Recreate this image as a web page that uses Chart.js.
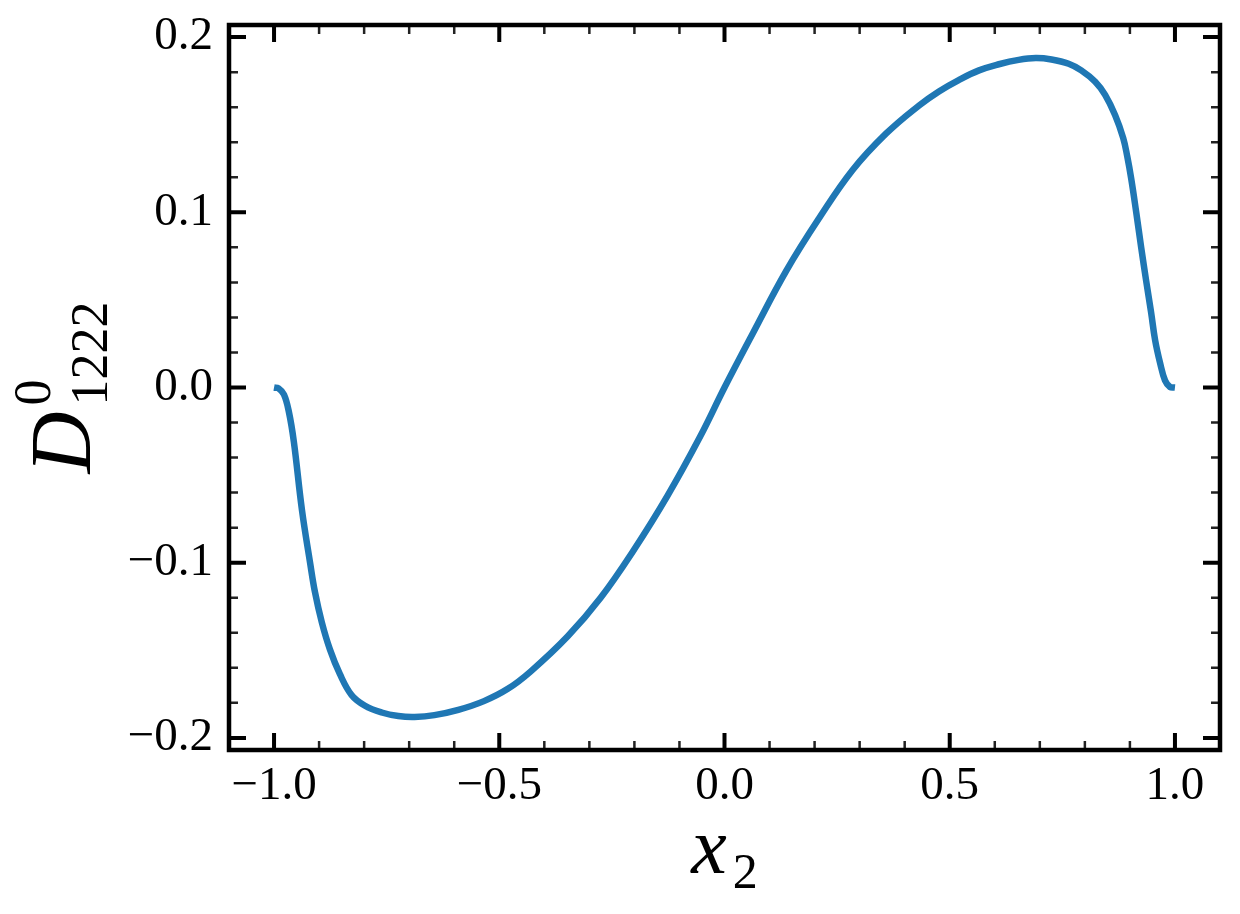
<!DOCTYPE html>
<html>
<head>
<meta charset="utf-8">
<script src="https://cdn.jsdelivr.net/npm/chart.js@4"></script>
<style>
    body { margin: 0; background: #fff; }
    #wrap { width: 1240px; height: 914px; }
</style>
</head>
<body>
<div id="wrap"><canvas id="myChart" width="1240" height="914"></canvas></div>
<script>
// values
const xValues = [-1.0, -0.99, -0.978, -0.967, -0.956, -0.938, -0.920, -0.909, -0.894, -0.876,
    -0.854, -0.828, -0.799, -0.761, -0.724, -0.688, -0.644, -0.591, -0.534, -0.481,
    -0.430, -0.348, -0.275, -0.202, -0.127, -0.054, 0.0, 0.063, 0.138, 0.211,
    0.284, 0.359, 0.432, 0.476, 0.520, 0.565, 0.609, 0.653, 0.691, 0.726,
    0.764, 0.792, 0.823, 0.845, 0.867, 0.885, 0.894, 0.903, 0.914, 0.925,
    0.936, 0.947, 0.956, 0.967, 0.978, 0.989, 1.0];
const yValues = [0.0, -0.0005, -0.004, -0.014, -0.031, -0.070, -0.100, -0.117, -0.134, -0.1495,
    -0.1635, -0.1755, -0.1815, -0.1855, -0.1875, -0.188, -0.187, -0.184, -0.179, -0.172,
    -0.162, -0.142, -0.120, -0.093, -0.062, -0.028, 0.0, 0.031, 0.067, 0.097,
    0.124, 0.145, 0.161, 0.169, 0.1755, 0.181, 0.1845, 0.187, 0.188, 0.1872,
    0.1848, 0.181, 0.1745, 0.167, 0.1555, 0.1425, 0.132, 0.119, 0.100, 0.080,
    0.061, 0.043, 0.027, 0.014, 0.004, 0.0003, 0.0];
const xTickValues = [-1.0, -0.5, 0.0, 0.5, 1.0];
const yTickValues = [-0.2, -0.1, 0.0, 0.1, 0.2];

const xLimits = [-1.1, 1.1];
const yLimits = [-0.2069, 0.2069];

const points = xValues.map((x, i) => ({ x: x, y: yValues[i] }));

// format like matplotlib: one decimal, real minus sign
function fmt(v) {
    const s = Math.abs(v) < 1e-9 ? "0.0" : v.toFixed(1);
    return s.replace("-", "\u2212");
}

//////////////////////////// frame + inward ticks ////////////////////////////
const frameTicks = {
    id: "frameTicks",
    afterDraw(chart) {
        const ctx = chart.ctx;
        const a = chart.chartArea;
        const xs = chart.scales.x;
        const ys = chart.scales.y;
        const majLen = 17, minLen = 9;

        ctx.save();

        // minor ticks
        ctx.lineWidth = 2.5;
        ctx.strokeStyle = "#222";
        ctx.beginPath();
        for (let v = -1.0; v <= 1.0001; v += 0.1) {
            const px = xs.getPixelForValue(v);
            ctx.moveTo(px, a.bottom); ctx.lineTo(px, a.bottom - minLen);
            ctx.moveTo(px, a.top); ctx.lineTo(px, a.top + minLen);
        }
        for (let v = -0.2; v <= 0.2001; v += 0.02) {
            const py = ys.getPixelForValue(v);
            ctx.moveTo(a.left, py); ctx.lineTo(a.left + minLen, py);
            ctx.moveTo(a.right, py); ctx.lineTo(a.right - minLen, py);
        }
        ctx.stroke();

        // major ticks
        ctx.lineWidth = 4;
        ctx.strokeStyle = "#000";
        ctx.beginPath();
        xTickValues.forEach(v => {
            const px = xs.getPixelForValue(v);
            ctx.moveTo(px, a.bottom); ctx.lineTo(px, a.bottom - majLen);
            ctx.moveTo(px, a.top); ctx.lineTo(px, a.top + majLen);
        });
        yTickValues.forEach(v => {
            const py = ys.getPixelForValue(v);
            ctx.moveTo(a.left, py); ctx.lineTo(a.left + majLen, py);
            ctx.moveTo(a.right, py); ctx.lineTo(a.right - majLen, py);
        });
        ctx.stroke();

        // frame
        ctx.lineWidth = 4.5;
        ctx.strokeRect(a.left, a.top, a.right - a.left, a.bottom - a.top);
        ctx.restore();
    }
};

//////////////////////////// axis titles ////////////////////////////
const axisTitles = {
    id: "axisTitles",
    afterDraw(chart) {
        const ctx = chart.ctx;
        const a = chart.chartArea;
        ctx.save();
        ctx.fillStyle = "#000";
        ctx.textBaseline = "alphabetic";
        ctx.textAlign = "left";

        // x title: x_2
        const mainX = "italic 80px 'Liberation Serif'";
        const subX = "50px 'Liberation Serif'";
        ctx.font = mainX;
        const wx = ctx.measureText("x").width;
        ctx.font = subX;
        const w2 = ctx.measureText("2").width;
        const gapX = 6;
        let startX = (a.left + a.right) / 2 - (wx + gapX + w2) / 2;
        ctx.font = mainX;
        ctx.fillText("x", startX, 873);
        ctx.font = subX;
        ctx.fillText("2", startX + wx + gapX, 888);

        // y title: D^0_1222, rotated
        const mainY = "italic 86px 'Liberation Serif'";
        const smallY = "52px 'Liberation Serif'";
        ctx.font = mainY;
        const wd = ctx.measureText("D").width;
        ctx.font = smallY;
        const ws = ctx.measureText("1222").width;
        const gapY = 6;
        const total = wd + gapY + ws;
        const cy = (a.top + a.bottom) / 2;
        ctx.translate(90, cy + total / 2);
        ctx.rotate(-Math.PI / 2);
        ctx.font = mainY;
        ctx.fillText("D", 0, 0);
        ctx.font = smallY;
        ctx.fillText("1222", wd + gapY, 17);
        ctx.fillText("0", wd + gapY, -40);
        ctx.restore();
    }
};

//////////////////////////// chart ////////////////////////////
document.addEventListener("DOMContentLoaded", function () {
    const ctx = document.getElementById("myChart").getContext("2d");
    new Chart(ctx, {
        type: "line",
        data: {
            datasets: [{
                data: points,
                borderColor: "#1f77b4",
                borderWidth: 6.5,
                pointRadius: 0,
                fill: false,
                tension: 0.4
            }]
        },
        options: {
            responsive: false,
            animation: false,
            layout: { padding: { top: 25, right: 20, left: 0, bottom: 0 } },
            plugins: {
                legend: { display: false },
                tooltip: { enabled: false }
            },
            scales: {
                x: {
                    type: "linear",
                    min: xLimits[0],
                    max: xLimits[1],
                    afterBuildTicks: s => { s.ticks = xTickValues.map(v => ({ value: v })); },
                    afterFit: s => { s.height = 164; s.paddingLeft = 0; s.paddingRight = 0; },
                    grid: { display: false, drawTicks: false },
                    border: { display: false },
                    ticks: {
                        callback: v => fmt(v),
                        color: "#000",
                        padding: 8,
                        maxRotation: 0,
                        autoSkip: false,
                        font: { family: "'Liberation Serif'", size: 47 }
                    }
                },
                y: {
                    type: "linear",
                    min: yLimits[0],
                    max: yLimits[1],
                    afterBuildTicks: s => { s.ticks = yTickValues.map(v => ({ value: v })); },
                    afterFit: s => { s.width = 229; s.paddingTop = 0; s.paddingBottom = 0; },
                    grid: { display: false, drawTicks: false },
                    border: { display: false },
                    ticks: {
                        callback: v => fmt(v),
                        color: "#000",
                        padding: 16,
                        autoSkip: false,
                        font: { family: "'Liberation Serif'", size: 47 }
                    }
                }
            }
        },
        plugins: [frameTicks, axisTitles]
    });
});
</script>
</body>
</html>
